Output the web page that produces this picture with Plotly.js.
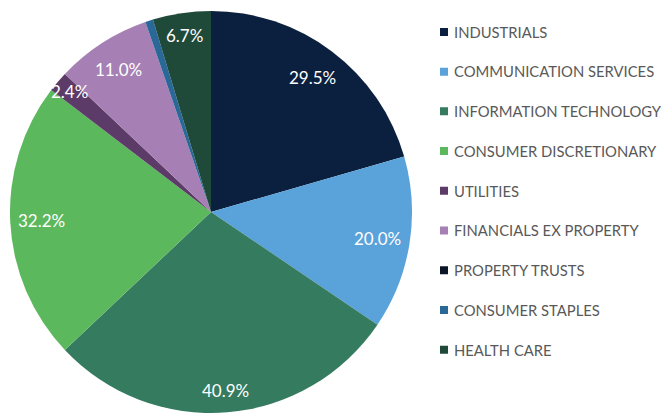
<!DOCTYPE html>
<html>
<head>
<meta charset="utf-8">
<script src="https://cdn.plot.ly/plotly-3.0.1.min.js"></script>
<style>html,body{margin:0;padding:0;background:#fff;}#chart{width:664px;height:415px;}</style>
</head>
<body>
<div id="chart"></div>
<script>
// ---- data ----
const categories = ["INDUSTRIALS", "COMMUNICATION SERVICES", "INFORMATION TECHNOLOGY",
  "CONSUMER DISCRETIONARY", "UTILITIES", "FINANCIALS EX PROPERTY",
  "PROPERTY TRUSTS", "CONSUMER STAPLES", "HEALTH CARE"];
const values = [29.5, 20.0, 40.9, 32.2, 2.4, 11.0, 0.0, 0.9, 6.7];
const labels = ["29.5%", "20.0%", "40.9%", "32.2%", "2.4%", "11.0%", "", "", "6.7%"];
const colors = ["#0b1f3e", "#5aa2da", "#347b5f", "#5cb85c", "#5d3b68",
  "#a680b4", "#0a1628", "#2a6898", "#1f4a3a"];

// ---- layout geometry (pixels) ----
const W = 664, H = 415;
const cx = 211, cyTop = 212, R = 201;

const pie = {
  type: "pie",
  labels: categories,
  values: values,
  sort: false,
  direction: "clockwise",
  rotation: 0,
  textinfo: "none",
  hoverinfo: "label+value",
  showlegend: false,
  marker: { colors: colors, line: { width: 0 } },
  domain: { x: [(cx - R) / W, (cx + R) / W], y: [(H - cyTop - R) / H, (H - cyTop + R) / H] }
};

// legend entries (one per category)
const legendTraces = categories.map((c, i) => ({
  type: "scatter", mode: "markers", x: [null], y: [null],
  name: c, legendgroup: "g" + i, showlegend: true, hoverinfo: "skip",
  marker: { symbol: "square", size: 8, color: colors[i] }
}));

// label annotations: placed "inside end" of each slice, from the data angles
const total = values.reduce((a, b) => a + b, 0);
let cum = 0;
const annotations = [];
values.forEach((v, i) => {
  const mid = (cum + v / 2) / total * 2 * Math.PI;
  cum += v;
  if (!labels[i]) return;
  const hw = labels[i].length * 5.0, hh = 14;
  const s = Math.sin(mid), c = Math.cos(mid);
  let dist = R - 6 - (hw * Math.abs(s) + hh * Math.abs(c));
  if (v / total < 0.03) dist = R - 15;
  const px = cx + dist * s;
  const py = cyTop - dist * c;
  annotations.push({
    xref: "paper", yref: "paper", x: px / W, y: 1 - py / H,
    text: labels[i], showarrow: false, xanchor: "center", yanchor: "middle",
    font: { family: "Lato, sans-serif", size: 17, color: "#ffffff" }
  });
});

const layout = {
  width: W, height: H,
  margin: { l: 0, r: 0, t: 0, b: 0, pad: 0, autoexpand: false },
  paper_bgcolor: "#ffffff", plot_bgcolor: "#ffffff",
  xaxis: { visible: false }, yaxis: { visible: false },
  showlegend: true,
  legend: {
    x: 0.6235, xanchor: "left", y: 0.962, yanchor: "top",
    font: { family: "Lato, sans-serif", size: 14.8, color: "#595959" },
    tracegroupgap: 17.5, itemclick: false, itemdoubleclick: false,
    bgcolor: "rgba(0,0,0,0)"
  },
  annotations: annotations
};

Plotly.newPlot("chart", [pie].concat(legendTraces), layout, { displayModeBar: false, staticPlot: true })
  .then(gd => {
    // nudge legend swatches closer to their text, as in the reference
    gd.querySelectorAll(".legend .legendpoints").forEach(p => {
      p.setAttribute("transform", "translate(10,0)");
    });
  });
</script>
</body>
</html>
